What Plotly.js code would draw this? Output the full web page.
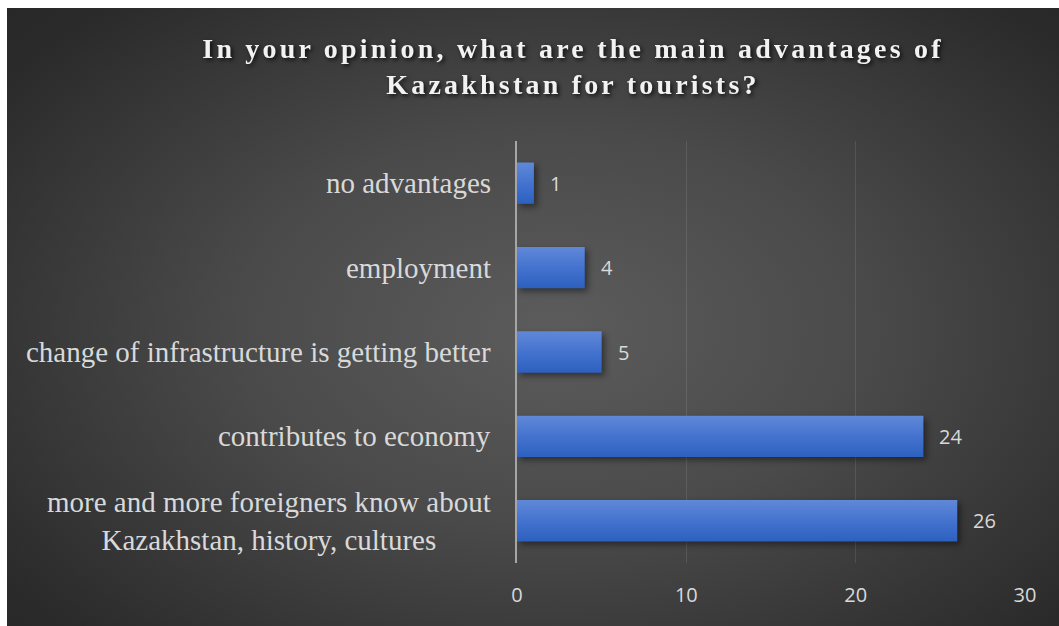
<!DOCTYPE html>
<html>
<head>
<meta charset="utf-8">
<script src="https://cdn.plot.ly/plotly-3.0.1.min.js"></script>
<style>
  html, body { margin: 0; padding: 0; background: #ffffff; width: 1059px; height: 626px; overflow: hidden; }
  #chart {
    position: absolute; left: 7px; top: 8px; width: 1052px; height: 618px;
    background: radial-gradient(ellipse 75% 80% at 52% 52%, #5c5c5c 0%, #4a4a4a 40%, #2b2b2b 85%, #262626 100%);
  }
  #chart .gtitle { letter-spacing: 3.2px; filter: drop-shadow(2px 2px 2px rgba(0,0,0,0.75)); }
  #chart .trace.bars .point path { fill: url(#barGrad) !important; filter: drop-shadow(3px 3px 3px rgba(0,0,0,0.45)); }
</style>
</head>
<body>
<div id="chart"></div>
<script>
// Data (bottom-to-top order as drawn)
const categories = [
  "more and more foreigners know about<br>Kazakhstan, history, cultures",
  "contributes to economy",
  "change of infrastructure is getting better",
  "employment",
  "no advantages"
];
const values = [26, 24, 5, 4, 1];
const tickValues = [0, 10, 20, 30];
const titleText = "In your opinion, what are the main advantages of<br>Kazakhstan for tourists?";

const labelColor = "#d9d9d9";

const trace = {
  type: "bar",
  orientation: "h",
  x: values,
  y: categories,
  marker: { color: "#4472c4", line: { width: 0 } },
  hoverinfo: "none"
};

const catAnnotations = categories.map((c) => ({
  x: 0, xref: "paper", xanchor: "right", xshift: -24,
  y: c, yref: "y", yanchor: "middle",
  text: c, showarrow: false, align: "center",
  font: { family: "Liberation Serif, Times New Roman, serif", size: 29, color: labelColor }
}));

const valAnnotations = values.map((v, i) => ({
  x: v, xref: "x", xanchor: "left", xshift: 14,
  y: categories[i], yref: "y", yanchor: "middle",
  text: String(v), showarrow: false,
  font: { family: "Open Sans, sans-serif", size: 20, color: labelColor }
}));

const layout = {
  width: 1052, height: 618,
  paper_bgcolor: "rgba(0,0,0,0)",
  plot_bgcolor: "rgba(0,0,0,0)",
  margin: { l: 510, r: 34, t: 133, b: 63 },
  bargap: 0.51,
  showlegend: false,
  title: {
    text: titleText,
    x: 566 / 1052, xref: "container", xanchor: "center",
    y: 1 - 50 / 618, yref: "container", yanchor: "top",
    font: { family: "Liberation Serif, Times New Roman, serif", size: 28, weight: "bold", color: "#f2f2f2" }
  },
  xaxis: {
    range: [0, 30],
    tickvals: tickValues,
    ticktext: tickValues.map(String),
    showgrid: true,
    gridcolor: "rgba(255,255,255,0.10)",
    gridwidth: 1.5,
    zeroline: false,
    showline: false,
    ticks: "outside", ticklen: 14, tickcolor: "rgba(0,0,0,0)",
    tickfont: { family: "Open Sans, sans-serif", size: 20, color: labelColor },
    fixedrange: true
  },
  yaxis: {
    type: "category",
    categoryorder: "array",
    categoryarray: categories,
    showticklabels: false,
    showgrid: false,
    zeroline: false,
    showline: true,
    linecolor: "#a6a6a6",
    linewidth: 2,
    ticks: "",
    fixedrange: true
  },
  annotations: catAnnotations.concat(valAnnotations)
};

Plotly.newPlot("chart", [trace], layout, { displayModeBar: false, staticPlot: true }).then(() => {
  const svg = document.querySelector("#chart .main-svg");
  const ns = "http://www.w3.org/2000/svg";
  let defs = svg.querySelector("defs");
  if (!defs) { defs = document.createElementNS(ns, "defs"); svg.insertBefore(defs, svg.firstChild); }
  const grad = document.createElementNS(ns, "linearGradient");
  grad.setAttribute("id", "barGrad");
  grad.setAttribute("x1", "0"); grad.setAttribute("y1", "0");
  grad.setAttribute("x2", "0"); grad.setAttribute("y2", "1");
  [["0%", "#6088d8"], ["50%", "#4473cf"], ["100%", "#2d60bf"]].forEach(([o, c]) => {
    const s = document.createElementNS(ns, "stop");
    s.setAttribute("offset", o); s.setAttribute("stop-color", c);
    grad.appendChild(s);
  });
  defs.appendChild(grad);
});
</script>
</body>
</html>
